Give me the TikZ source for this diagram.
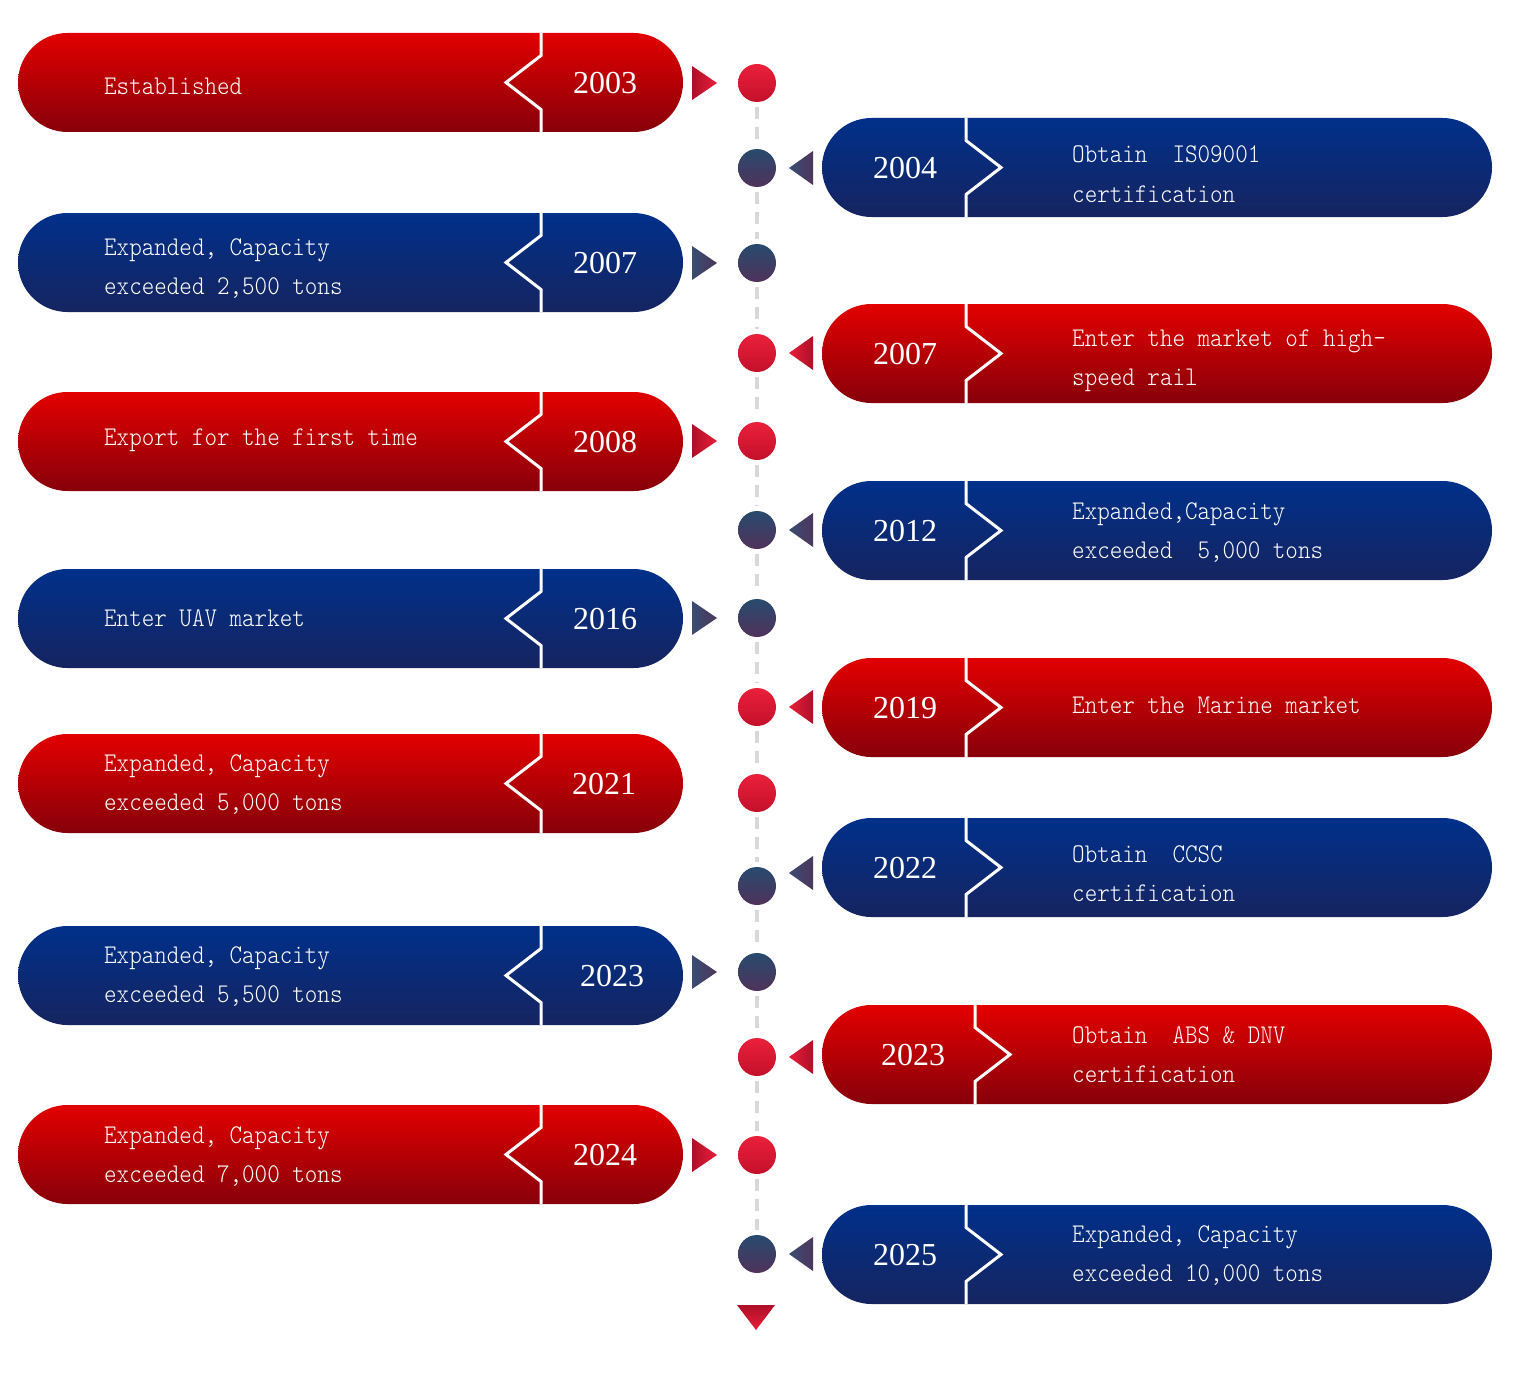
\documentclass[tikz,border=0pt]{standalone}
\usepackage{fontspec}
\usetikzlibrary{shapes.misc}
\newfontfamily\descfont[FakeStretch=0.885]{Latin Modern Mono Light}
\newfontfamily\yearfont{Liberation Serif}
\definecolor{rTop}{RGB}{226,0,0}
\definecolor{rMid}{RGB}{205,0,0}
\definecolor{rBot}{RGB}{135,0,10}
\definecolor{bTop}{RGB}{0,48,138}
\definecolor{bMid}{RGB}{6,42,122}
\definecolor{bBot}{RGB}{22,36,96}
\definecolor{dRTop}{RGB}{234,32,60}
\definecolor{dRBot}{RGB}{196,16,42}
\definecolor{dBTop}{RGB}{40,74,110}
\definecolor{dBBot}{RGB}{80,50,90}
\definecolor{aRDark}{RGB}{175,15,40}
\definecolor{aRBright}{RGB}{232,30,56}
\definecolor{aBA}{RGB}{58,76,114}
\definecolor{aBB}{RGB}{78,54,92}
\definecolor{dashgray}{RGB}{216,216,216}
\tikzset{
  pill/.style={rounded rectangle, inner sep=0pt, minimum height=99pt, draw=none},
  redpill/.style={top color=rTop, middle color=rMid, bottom color=rBot},
  bluepill/.style={top color=bTop, middle color=bMid, bottom color=bBot},
  divider/.style={draw=white, line width=3pt, line join=miter},
  yeartext/.style={text=white, font=\yearfont\fontsize{32}{32}\selectfont, anchor=base, inner sep=0pt},
  desctext/.style={text=white, font=\descfont\fontsize{27}{30}\selectfont, anchor=base west, inner sep=0pt},
  dot/.style={circle, inner sep=0pt, minimum size=38pt, draw=none},
  reddot/.style={dot, top color=dRTop, bottom color=dRBot},
  bluedot/.style={dot, top color=dBTop, bottom color=dBBot},
  dashline/.style={draw=dashgray, line width=3.5pt, dash pattern=on 12pt off 8pt, shorten <=5pt, shorten >=5pt},
  redRarrow/.style={left color=aRDark, right color=aRBright},
  redLarrow/.style={left color=aRBright, right color=aRDark},
  blueRarrow/.style={left color=aBA, right color=aBB},
  blueLarrow/.style={left color=aBA, right color=aBB},
}
% left pill: id, cy, colour, year, year x, divider x
\newcommand\LPill[6]{%
  \node[pill, #3pill, minimum width=665pt] (P#1) at (350.5,#2) {};
  \draw[divider] (#6,#2-49.5) -- (#6,#2-27) -- (#6-35,#2) -- (#6,#2+27) -- (#6,#2+49.5);
  \node[yeartext] (Y#1) at (#5,#2+11) {#4};
}
\newcommand\RPill[6]{%
  \node[pill, #3pill, minimum width=670pt] (P#1) at (1157,#2) {};
  \draw[divider] (#6,#2-49.5) -- (#6,#2-27) -- (#6+35,#2) -- (#6,#2+27) -- (#6,#2+49.5);
  \node[yeartext] (Y#1) at (#5,#2+11) {#4};
}
% arrows beside the pills: colour style, cy
\newcommand\RArrow[2]{\path[#1] (692,#2-17) -- (717,#2) -- (692,#2+17) -- cycle;}
\newcommand\LArrow[2]{\path[#1] (813,#2-17) -- (789,#2) -- (813,#2+17) -- cycle;}
\begin{document}
\begin{tikzpicture}[x=1pt,y=-1pt]
\useasboundingbox (0,0) rectangle (1516,1378);
% circles
\node[reddot]  (C1)  at (757,83) {};
\node[bluedot] (C2)  at (757,168) {};
\node[bluedot] (C3)  at (757,263) {};
\node[reddot]  (C4)  at (757,353) {};
\node[reddot]  (C5)  at (757,441) {};
\node[bluedot] (C6)  at (757,530) {};
\node[bluedot] (C7)  at (757,618) {};
\node[reddot]  (C8)  at (757,707) {};
\node[reddot]  (C9)  at (757,793) {};
\node[bluedot] (C10) at (757,886) {};
\node[bluedot] (C11) at (757,972) {};
\node[reddot]  (C12) at (757,1057) {};
\node[reddot]  (C13) at (757,1155) {};
\node[bluedot] (C14) at (757,1254) {};
\foreach \a/\b in {1/2,2/3,3/4,4/5,5/6,6/7,7/8,8/9,9/10,10/11,11/12,12/13,13/14}
  \draw[dashline] (C\a) -- (C\b);
% end triangle
\path[top color=aRDark, bottom color=aRBright] (737,1305) -- (775,1305) -- (756,1330) -- cycle;

% left pills
\LPill{L1}{82.5}{red}{2003}{605}{541}
\node[desctext] (D1) at (104,95) {Established};
\RArrow{redRarrow}{83}

\LPill{L2}{262.5}{blue}{2007}{605}{541}
\node[desctext] (D2a) at (104,255) {Expanded, Capacity};
\node[desctext] (D2b) at (104,294) {exceeded 2,500 tons};
\RArrow{blueRarrow}{263}

\LPill{L3}{441.5}{red}{2008}{605}{541}
\node[desctext] (D3) at (104,445) {Export for the first time};
\RArrow{redRarrow}{441}

\LPill{L4}{618.5}{blue}{2016}{605}{541}
\node[desctext] (D4) at (104,626) {Enter UAV market};
\RArrow{blueRarrow}{618}

\LPill{L5}{783.5}{red}{2021}{604}{541}
\node[desctext] (D5a) at (104,771) {Expanded, Capacity};
\node[desctext] (D5b) at (104,810) {exceeded 5,000 tons};

\LPill{L6}{975.5}{blue}{2023}{612}{541}
\node[desctext] (D6a) at (104,963) {Expanded, Capacity};
\node[desctext] (D6b) at (104,1002) {exceeded 5,500 tons};
\RArrow{blueRarrow}{972}

\LPill{L7}{1154.5}{red}{2024}{605}{541}
\node[desctext] (D7a) at (104,1143) {Expanded, Capacity};
\node[desctext] (D7b) at (104,1182) {exceeded 7,000 tons};
\RArrow{redRarrow}{1155}

% right pills
\RPill{R1}{167.5}{blue}{2004}{905}{966}
\node[desctext] (E1a) at (1072,163) {Obtain\ \ IS09001};
\node[desctext] (E1b) at (1072,202) {certification};
\LArrow{blueLarrow}{168}

\RPill{R2}{353.5}{red}{2007}{905}{966}
\node[desctext] (E2a) at (1072,346) {Enter the market of high-};
\node[desctext] (E2b) at (1072,385) {speed rail};
\LArrow{redLarrow}{353}

\RPill{R3}{530.5}{blue}{2012}{905}{966}
\node[desctext] (E3a) at (1072,519) {Expanded,Capacity};
\node[desctext] (E3b) at (1072,558) {exceeded\ \ 5,000 tons};
\LArrow{blueLarrow}{530}

\RPill{R4}{707.5}{red}{2019}{905}{966}
\node[desctext] (E4) at (1072,713) {Enter the Marine market};
\LArrow{redLarrow}{707}

\RPill{R5}{867.5}{blue}{2022}{905}{966}
\node[desctext] (E5a) at (1072,862) {Obtain\ \ CCSC};
\node[desctext] (E5b) at (1072,901) {certification};
\LArrow{blueLarrow}{873}

\RPill{R6}{1054.5}{red}{2023}{913}{975}
\node[desctext] (E6a) at (1072,1043) {Obtain\ \ ABS \& DNV};
\node[desctext] (E6b) at (1072,1082) {certification};
\LArrow{redLarrow}{1057}

\RPill{R7}{1254.5}{blue}{2025}{905}{966}
\node[desctext] (E7a) at (1072,1242) {Expanded, Capacity};
\node[desctext] (E7b) at (1072,1281) {exceeded 10,000 tons};
\LArrow{blueLarrow}{1254}
\end{tikzpicture}
\end{document}
